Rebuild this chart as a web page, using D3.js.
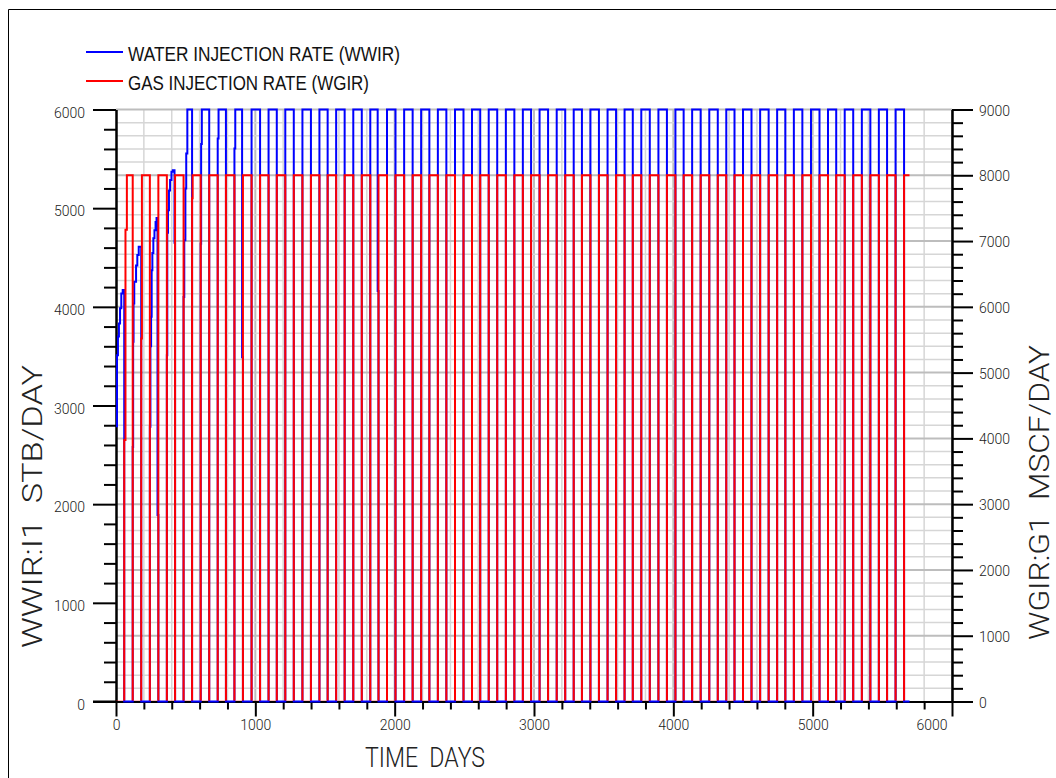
<!DOCTYPE html>
<html>
<head>
<meta charset="utf-8">
<script src="https://cdn.jsdelivr.net/npm/d3@7"></script>
<style>
  html, body { margin: 0; padding: 0; background: #fff; }
  svg { display: block; }
  text { white-space: pre; }
</style>
</head>
<body>
<svg id="chart" width="1056" height="778"></svg>
<script>
// WAG schedule: day each water slug starts / each gas slug starts
const waterStartDays = [0, 120, 243, 365, 485, 608, 730, 850, 973, 1095, 1215, 1338, 1460, 1580, 1703,
  1825, 1945, 2068, 2190, 2310, 2433, 2555, 2675, 2798, 2920, 3040, 3163, 3285, 3405, 3528, 3650, 3770,
  3893, 4015, 4135, 4258, 4380, 4500, 4623, 4745, 4865, 4988, 5110, 5230, 5353, 5475, 5595];
const gasStartDays = [59, 181, 304, 424, 546, 669, 789, 911, 1034, 1154, 1276, 1399, 1519, 1641, 1764,
  1884, 2006, 2129, 2249, 2371, 2494, 2614, 2736, 2859, 2979, 3101, 3224, 3344, 3466, 3589, 3709, 3831,
  3954, 4074, 4196, 4319, 4439, 4561, 4684, 4804, 4926, 5049, 5169, 5291, 5414, 5534, 5656];
const endDay = 5695;

// Target rates once the well is on full injection
const wwirTarget = 6000;   // STB/DAY
const wgirTarget = 8000;   // MSCF/DAY

// Reported rates [day, rate] where the well is below target (ramp-up and cut-backs)
const wwirSteps = [
  [0, 2790], [7, 3510], [14, 3700], [21, 3830], [29, 3985], [38, 4135], [48, 4170],
  [120, 2580], [123, 3645], [126, 4035], [131, 4255], [144, 4420], [153, 4525], [163, 4610],
  [243, 2785], [247, 3600], [252, 3900], [256, 4370], [261, 4545], [268, 4695], [276, 4775], [284, 4860], [291, 4900], [298, 1890],
  [365, 3510], [368, 4750], [373, 4980], [380, 5180], [388, 5285], [398, 5370], [408, 5385], [420, 4650],
  [485, 4100], [490, 4675], [498, 5200], [504, 5555], [512, 6000],
  [608, 4640], [611, 5650], [616, 6000],
  [730, 5705], [736, 6000],
  [850, 5605], [856, 6000], [905, 3490],
  [1878, 4160]
];
const wgirSteps = [
  [59, 3975], [68, 7170], [78, 8000],
  [181, 5520], [186, 8000],
  [546, 7650], [550, 8000]
];

// Axis tick values
const dayTicks = [0, 1000, 2000, 3000, 4000, 5000, 6000];
const wwirTicks = [0, 1000, 2000, 3000, 4000, 5000, 6000];
const wgirTicks = [0, 1000, 2000, 3000, 4000, 5000, 6000, 7000, 8000, 9000];

// Step series: the rate holds until the next reported point
function slugSeries(onDays, offDays, target, steps, startsOn) {
  const pts = startsOn ? [] : [[0, 0]];
  onDays.forEach((s, i) => {
    const e = i < offDays.length ? offDays[i] : endDay;
    const own = steps.filter(d => d[0] >= s && d[0] < e);
    if (!own.length || own[0][0] > s) pts.push([s, target]);
    own.forEach(d => pts.push(d));
    if (i < offDays.length) pts.push([e, 0]);
  });
  pts.push([endDay, pts[pts.length - 1][1]]);
  return pts;
}

const wwir = slugSeries(waterStartDays, gasStartDays, wwirTarget, wwirSteps, true);
const wgir = slugSeries(gasStartDays, waterStartDays.slice(1), wgirTarget, wgirSteps, false);

const svg = d3.select("#chart");
const plotLeft = 116, plotRight = 952, plotTop = 109.5, plotBottom = 701.5;

const x = d3.scaleLinear().domain([0, 6000]).range([plotLeft, plotRight]);
const yL = d3.scaleLinear().domain([0, 6000]).range([plotBottom, plotTop]);
const yR = d3.scaleLinear().domain([0, 9000]).range([plotBottom, plotTop]);

// Page border (top and left edges)
svg.append("path").attr("d", "M8.5,778 V9.5 H1056")
  .attr("fill", "none").attr("stroke", "#000").attr("stroke-width", 1);

// Grid: every 200 days vertically, every 200 MSCF/DAY horizontally
const grid = svg.append("g");
d3.range(200, 6001, 200).forEach(d => {
  const major = d % 1000 === 0;
  grid.append("line").attr("x1", x(d)).attr("x2", x(d)).attr("y1", plotTop).attr("y2", plotBottom)
    .attr("stroke", major ? "#bdbdbd" : "#d6d6d6").attr("stroke-width", major ? 2 : 1.5);
});
d3.range(200, 9001, 200).forEach(d => {
  const major = d % 1000 === 0;
  grid.append("line").attr("x1", plotLeft).attr("x2", plotRight).attr("y1", yR(d)).attr("y2", yR(d))
    .attr("stroke", major ? "#bdbdbd" : "#d6d6d6").attr("stroke-width", major ? 2 : 1.5);
});

const thinFont = "Roboto, 'Liberation Sans', Arial, sans-serif";
function styleAxis(g) {
  g.select(".domain").attr("stroke", "#000").attr("stroke-width", 2);
  g.selectAll(".tick line").attr("stroke", "#000").attr("stroke-width", 2);
  g.selectAll(".tick text").attr("fill", "#222")
    .style("font-family", thinFont).style("font-weight", 300).style("font-size", "14px");
}

// Left axis (WWIR)
svg.append("g").attr("transform", `translate(${plotLeft},0)`)
  .call(d3.axisLeft(yL).tickValues(d3.range(200, 6000, 200).filter(d => d % 1000)).tickSize(12).tickFormat("").tickSizeOuter(0))
  .call(styleAxis);
svg.append("g").attr("transform", `translate(${plotLeft},0)`)
  .call(d3.axisLeft(yL).tickValues(wwirTicks).tickSize(23).tickPadding(8).tickFormat(d3.format("d")).tickSizeOuter(0))
  .call(styleAxis)
  .call(g => g.selectAll(".tick text").attr("dy", "0.55em"));

// Right axis (WGIR)
svg.append("g").attr("transform", `translate(${plotRight},0)`)
  .call(d3.axisRight(yR).tickValues(d3.range(200, 9000, 200).filter(d => d % 1000)).tickSize(11).tickFormat("").tickSizeOuter(0))
  .call(styleAxis);
svg.append("g").attr("transform", `translate(${plotRight},0)`)
  .call(d3.axisRight(yR).tickValues(wgirTicks).tickSize(21).tickPadding(6).tickFormat(d3.format("d")).tickSizeOuter(0))
  .call(styleAxis)
  .call(g => g.selectAll(".tick text").attr("dy", "0.4em"));

// Bottom axis (time)
svg.append("g").attr("transform", `translate(0,${plotBottom})`)
  .call(d3.axisBottom(x).tickValues(d3.range(200, 6000, 200).filter(d => d % 1000)).tickSize(8).tickFormat("").tickSizeOuter(0))
  .call(styleAxis);
svg.append("g").attr("transform", `translate(0,${plotBottom})`)
  .call(d3.axisBottom(x).tickValues(dayTicks).tickSize(15).tickPadding(4).tickFormat(d3.format("d")).tickSizeOuter(0))
  .call(styleAxis)
  // last label sits left of its tick, clear of the right axis
  .call(g => g.selectAll(".tick text").filter(d => d === 6000).attr("text-anchor", "end").attr("x", -5));
// extend x-axis line left to the left axis' zero tick
svg.append("line").attr("x1", plotLeft - 23).attr("x2", plotLeft).attr("y1", plotBottom).attr("y2", plotBottom)
  .attr("stroke", "#000").attr("stroke-width", 2);

// Data lines: gas drawn over water, but kept off the zero line so the water trace shows there
svg.append("clipPath").attr("id", "aboveZero")
  .append("rect").attr("x", 0).attr("y", 0).attr("width", 1056).attr("height", plotBottom - 1);
const lineL = d3.line().x(d => x(d[0])).y(d => yL(d[1])).curve(d3.curveStepAfter);
const lineR = d3.line().x(d => x(d[0])).y(d => yR(d[1])).curve(d3.curveStepAfter);
svg.append("path").datum(wwir).attr("d", lineL)
  .attr("fill", "none").attr("stroke", "#0000ff").attr("stroke-width", 2);
svg.append("path").datum(wgir).attr("d", lineR).attr("clip-path", "url(#aboveZero)")
  .attr("fill", "none").attr("stroke", "#ff0000").attr("stroke-width", 2);

// Legend
const legendFont = "'Liberation Sans Narrow', 'Arial Narrow', 'Liberation Sans', Arial, sans-serif";
const legend = [
  { label: "WATER INJECTION RATE (WWIR)", color: "#0000ff", y: 52, w: 272 },
  { label: "GAS INJECTION RATE (WGIR)", color: "#ff0000", y: 81, w: 241 }
];
legend.forEach(l => {
  svg.append("line").attr("x1", 86).attr("x2", 123).attr("y1", l.y).attr("y2", l.y)
    .attr("stroke", l.color).attr("stroke-width", 2);
  svg.append("text").attr("x", 128).attr("y", l.y + 8.5)
    .attr("textLength", l.w).attr("lengthAdjust", "spacingAndGlyphs")
    .style("font-family", legendFont).style("font-size", "20px").attr("fill", "#111")
    .text(l.label);
});

// Axis titles
function title(sel) {
  return sel.attr("lengthAdjust", "spacingAndGlyphs")
    .style("font-family", thinFont).style("font-weight", 300).style("font-size", "27px").attr("fill", "#222");
}
svg.append("text").attr("x", 365).attr("y", 767).attr("textLength", 120).call(title)
  .text("TIME  DAYS");
svg.append("text").attr("transform", "translate(42,648) rotate(-90)").attr("textLength", 283).call(title)
  .text("WWIR:I1  STB/DAY");
svg.append("text").attr("transform", "translate(1049,640) rotate(-90)").attr("textLength", 295).call(title)
  .text("WGIR:G1  MSCF/DAY");
</script>
</body>
</html>
